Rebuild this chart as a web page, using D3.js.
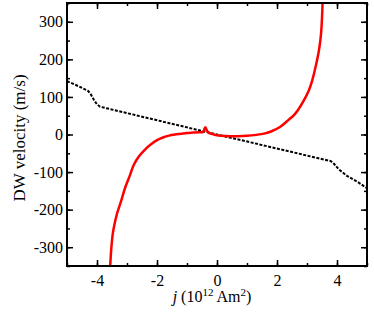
<!DOCTYPE html>
<html>
<head>
<meta charset="utf-8">
<script src="https://cdn.jsdelivr.net/npm/d3@7"></script>
<style>
  body { margin: 0; background: #fff; }
  svg text { font-family: "Liberation Serif", "Times New Roman", serif; fill: #000; }
</style>
</head>
<body>
<svg id="chart" width="374" height="320"></svg>
<script>
// black dotted line (j, velocity)
var lineJ = [-5, -4.6, -4.3, -4.2, -4.1, -4.0, -3.9, 0, 3.8, 3.9, 4.05, 4.33, 4.7, 5];
var lineV = [142, 128, 116, 106, 92, 80, 74, 0, -71, -78, -92, -110, -127, -143];

// red solid curve (j, velocity)
var curveJ = [-3.56, -3.52, -3.47, -3.42, -3.33, -3.2, -3.06, -2.9, -2.78, -2.6, -2.4, -2.2, -2.0, -1.8, -1.6,
              -1.4, -1.2, -1.0, -0.8, -0.6, -0.46, -0.39, -0.3, -0.15, 0, 0.3, 0.7, 1.0, 1.3, 1.6, 1.8,
              2.1, 2.4, 2.55, 2.7, 2.89, 3.05, 3.17, 3.3, 3.4, 3.47, 3.52];
var curveV = [-350, -300, -262, -240, -210, -178, -141, -108, -82, -58, -40, -26, -15, -8, -3,
              0, 2, 4, 5, 6, 7, 19, 6, 1, -2, -4, -4.5, -3.5, -1, 3, 8,
              20, 40, 50, 65, 90, 115, 143, 185, 225, 270, 350];

var xTicks = [-4, -2, 0, 2, 4];
var yTicks = [-300, -200, -100, 0, 100, 200, 300];

(function() {
    var svg = d3.select('#chart');
    var mLeft = 67, mRight = 367, mTop = 3, mBottom = 266;

    var x = d3.scaleLinear().domain([-5, 5]).range([mLeft, mRight]);
    var y = d3.scaleLinear().domain([-350, 350]).range([mBottom, mTop]);

    svg.append('clipPath').attr('id', 'clip')
        .append('rect').attr('x', mLeft).attr('y', mTop)
        .attr('width', mRight - mLeft).attr('height', mBottom - mTop);

    // data lines
    var lineData = lineJ.map(function(j, i) { return [j, lineV[i]]; });
    var curveData = curveJ.map(function(j, i) { return [j, curveV[i]]; });

    var gen = d3.line().x(function(d) { return x(d[0]); }).y(function(d) { return y(d[1]); });
    var smooth = d3.line().x(function(d) { return x(d[0]); }).y(function(d) { return y(d[1]); })
        .curve(d3.curveCatmullRom.alpha(0.5));

    var inner = svg.append('g').attr('clip-path', 'url(#clip)');
    inner.append('path').datum(lineData)
        .attr('d', gen)
        .attr('fill', 'none').attr('stroke', '#000').attr('stroke-width', 2)
        .attr('stroke-dasharray', '3,1.5');
    inner.append('path').datum(curveData)
        .attr('d', smooth)
        .attr('fill', 'none').attr('stroke', '#ff0000').attr('stroke-width', 2.5)
        .attr('stroke-linejoin', 'round');

    // axes - inward ticks on all four sides
    var minorX = d3.range(-5, 5.01, 1), minorY = d3.range(-350, 351, 50);
    var fmt = function(d) { return d < 0 ? '-' + Math.abs(d) : d; };

    function styleAxis(g) {
        g.select('.domain').remove();
        g.selectAll('line').attr('stroke', '#000').attr('stroke-width', 1.5);
        g.selectAll('text').style('font-size', '16px');
    }

    svg.append('g').attr('transform', 'translate(0,' + mBottom + ')')
        .call(d3.axisBottom(x).tickValues(minorX).tickSize(-3).tickFormat(''))
        .call(styleAxis);
    svg.append('g').attr('transform', 'translate(0,' + mBottom + ')')
        .call(d3.axisBottom(x).tickValues(xTicks).tickSize(-6).tickPadding(9).tickFormat(fmt))
        .call(styleAxis);
    svg.append('g').attr('transform', 'translate(0,' + mTop + ')')
        .call(d3.axisTop(x).tickValues(minorX).tickSize(-3).tickFormat(''))
        .call(styleAxis);
    svg.append('g').attr('transform', 'translate(0,' + mTop + ')')
        .call(d3.axisTop(x).tickValues(xTicks).tickSize(-6).tickFormat(''))
        .call(styleAxis);

    svg.append('g').attr('transform', 'translate(' + mLeft + ',0)')
        .call(d3.axisLeft(y).tickValues(minorY).tickSize(-3).tickFormat(''))
        .call(styleAxis);
    svg.append('g').attr('transform', 'translate(' + mLeft + ',0)')
        .call(d3.axisLeft(y).tickValues(yTicks).tickSize(-6).tickPadding(4).tickFormat(fmt))
        .call(styleAxis);
    svg.append('g').attr('transform', 'translate(' + mRight + ',0)')
        .call(d3.axisRight(y).tickValues(minorY).tickSize(-3).tickFormat(''))
        .call(styleAxis);
    svg.append('g').attr('transform', 'translate(' + mRight + ',0)')
        .call(d3.axisRight(y).tickValues(yTicks).tickSize(-6).tickFormat(''))
        .call(styleAxis);

    // frame
    svg.append('rect').attr('x', mLeft).attr('y', mTop)
        .attr('width', mRight - mLeft).attr('height', mBottom - mTop)
        .attr('fill', 'none').attr('stroke', '#000').attr('stroke-width', 2);

    // axis titles
    var xt = svg.append('text').attr('x', 212).attr('y', 302)
        .attr('text-anchor', 'middle').style('font-size', '16px');
    xt.append('tspan').style('font-style', 'italic').text('j');
    xt.append('tspan').text(' (10');
    xt.append('tspan').attr('dy', -6).style('font-size', '11px').text('12');
    xt.append('tspan').attr('dy', 6).text(' Am');
    xt.append('tspan').attr('dy', -6).style('font-size', '11px').text('2');
    xt.append('tspan').attr('dy', 6).text(')');

    svg.append('text')
        .attr('transform', 'translate(25,138) rotate(-90)')
        .attr('text-anchor', 'middle').style('font-size', '17px')
        .text('DW velocity (m/s)');
})();
</script>
</body>
</html>
